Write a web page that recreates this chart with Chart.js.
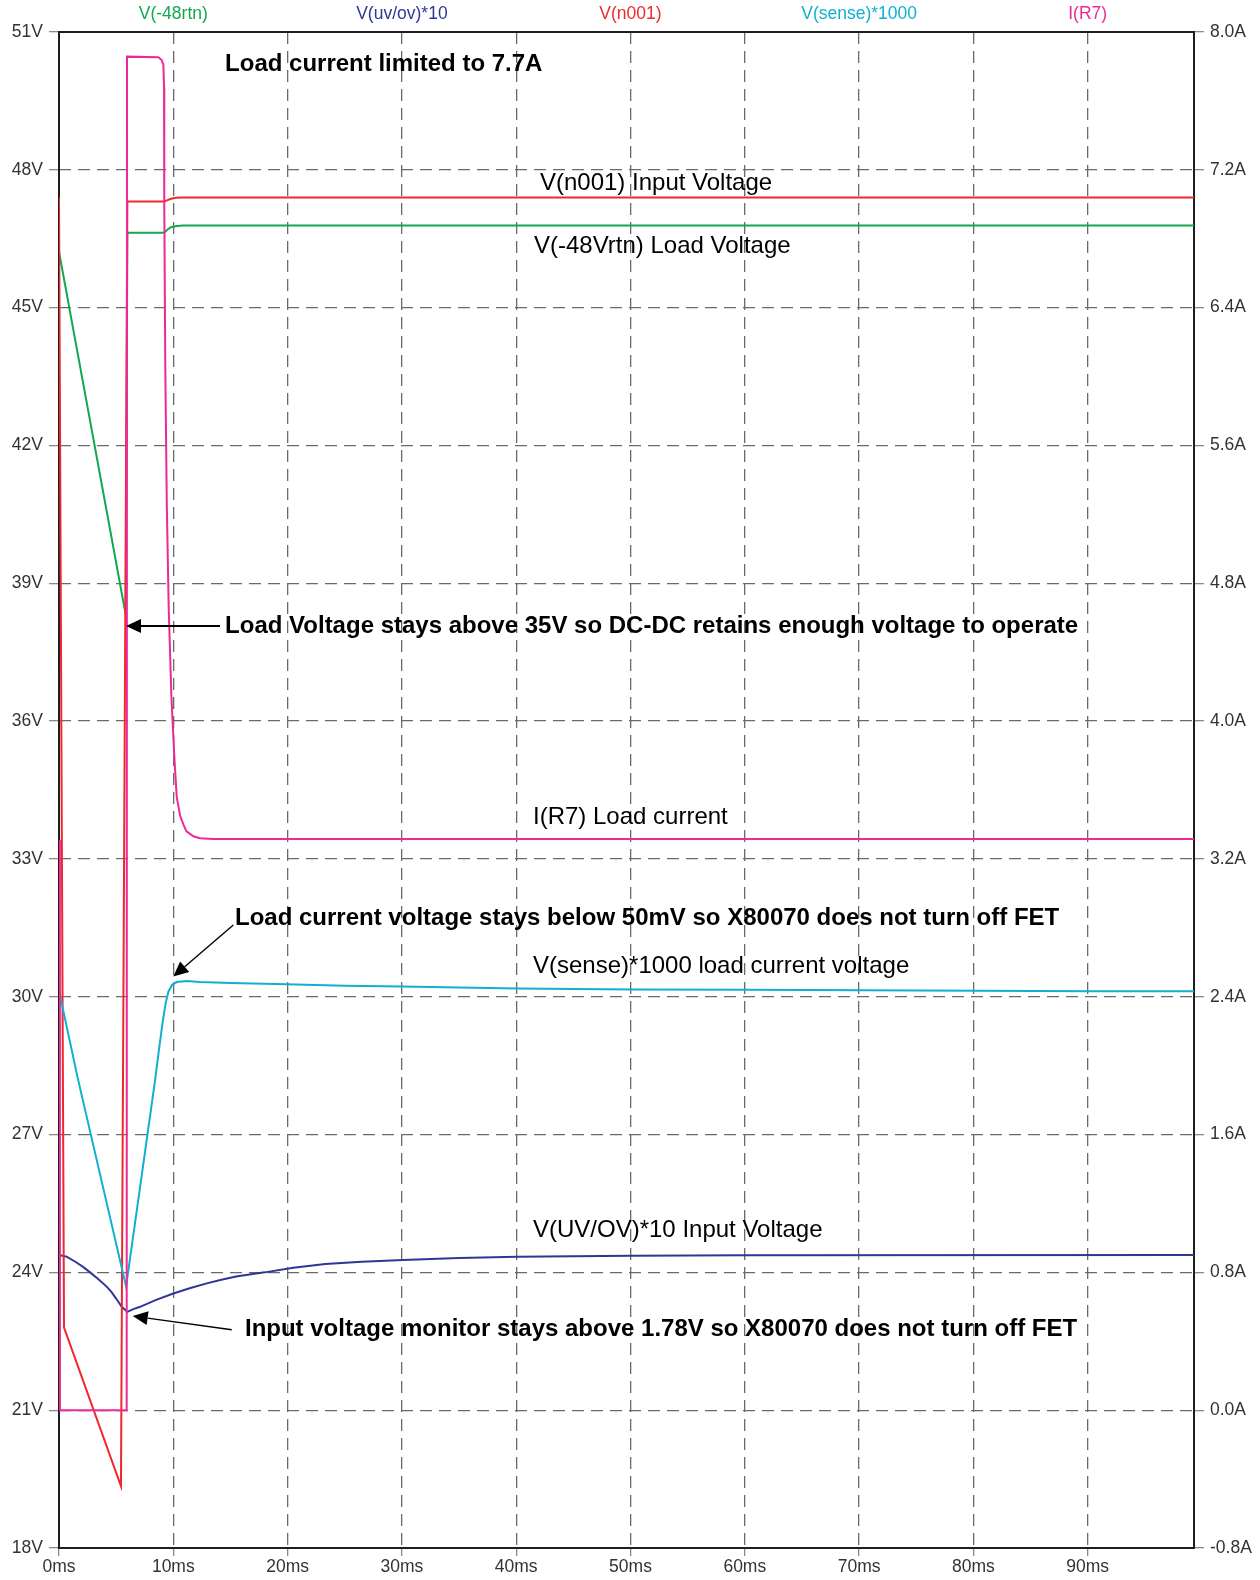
<!DOCTYPE html>
<html>
<head>
<meta charset="utf-8">
<script src="https://cdn.jsdelivr.net/npm/chart.js@4.4.1/dist/chart.umd.min.js"></script>
<style>
  html, body { margin: 0; padding: 0; background: #ffffff; }
  canvas { display: block; }
</style>
</head>
<body>
<canvas id="scope" width="1260" height="1580"></canvas>
<script>
// ---- axis ticks ----
const timeTicks = [0, 10, 20, 30, 40, 50, 60, 70, 80, 90];          // ms
const voltTicks = [18, 21, 24, 27, 30, 33, 36, 39, 42, 45, 48, 51];  // V (left)
const ampTicks  = [-0.8, 0, 0.8, 1.6, 2.4, 3.2, 4.0, 4.8, 5.6, 6.4, 7.2, 8.0]; // A (right)
const timeEnd = 99.3;

// ---- trace names (header row) ----
const seriesNames = ['V(-48rtn)', 'V(uv/ov)*10', 'V(n001)', 'V(sense)*1000', 'I(R7)'];
const namePositions = [10, 30, 50, 70, 90]; // ms

// ---- V(n001) input voltage ----
const tN001 = [0, 0.44, 5.42, 5.98, 9.2, 9.5, 9.8, 10.2, 10.8, 99.3];
const vN001 = [47.4, 22.8, 19.35, 47.31, 47.31, 47.34, 47.37, 47.39, 47.4, 47.4];

// ---- V(-48Vrtn) load voltage ----
const tRtn = [0, 5.84, 5.98, 9.2, 9.5, 9.8, 10.2, 10.8, 99.3];
const vRtn = [46.22, 38.31, 46.63, 46.63, 46.70, 46.75, 46.77, 46.79, 46.79];

// ---- V(uv/ov)*10 ----
const tUvov = [0, 0.67, 1.5, 2.1, 2.72, 3.4, 4.17, 4.6, 5.0, 5.49, 5.98, 6.5, 7.09, 8.5, 10.0, 11.5, 12.93, 14.2, 15.5, 16.8, 18.0, 20.5, 23.3, 26.5, 30.1, 35.0, 40.1, 45.0, 50.1, 60.0, 99.3];
const vUvov = [24.38, 24.34, 24.22, 24.12, 24.0, 23.86, 23.69, 23.57, 23.43, 23.25, 23.14, 23.2, 23.25, 23.40, 23.54, 23.66, 23.76, 23.84, 23.91, 23.96, 24.0, 24.1, 24.18, 24.23, 24.27, 24.31, 24.34, 24.35, 24.36, 24.37, 24.38];

// ---- V(sense)*1000 ----
const tSense = [0, 1.62, 5.87, 8.41, 8.8, 9.1, 9.35, 9.57, 9.9, 10.3, 11.2, 12.3, 15.0, 19.9, 25.0, 30.0, 40.1, 50.3, 60.3, 70.4, 80.3, 90.4, 99.3];
const vSense = [30.13, 28.25, 23.69, 28.19, 28.95, 29.5, 29.88, 30.11, 30.26, 30.32, 30.34, 30.32, 30.3, 30.27, 30.24, 30.22, 30.18, 30.16, 30.15, 30.14, 30.13, 30.12, 30.12];

// ---- I(R7) load current (A) ----
const tLoad = [0, 0.08, 5.92, 5.95, 8.69, 8.99, 9.13, 9.19, 9.21, 9.3, 9.43, 9.6, 9.83, 9.95, 10.1, 10.3, 10.6, 10.88, 11.15, 11.8, 12.35, 13.5, 99.3];
const aLoad = [3.31, 0, 0, 7.857, 7.853, 7.837, 7.81, 7.68, 7.0, 6.05, 5.26, 4.65, 4.15, 3.98, 3.78, 3.56, 3.45, 3.40, 3.36, 3.33, 3.32, 3.315, 3.315];

// ---- colours ----
const colours = {
  rtn:   '#13a84f',
  uvov:  '#2f3795',
  n001:  '#f0282d',
  sense: '#10b0d0',
  load:  '#ec2a95'
};

const FONT = '"Liberation Sans", Arial, sans-serif';

const pairs = (ts, vs) => ts.map((t, i) => ({ x: t, y: vs[i] }));

// ---- text annotations, placed in axis units (ms, V) ----
const notes = [
  { text: 'Load current limited to 7.7A', t: 14.53, v: 50.16, bold: true },
  { text: 'V(n001) Input Voltage', t: 42.08, v: 47.56, bold: false },
  { text: 'V(-48Vrtn) Load Voltage', t: 41.56, v: 46.2, bold: false },
  { text: 'Load Voltage stays above 35V so DC-DC retains enough voltage to operate', t: 14.53, v: 37.91, bold: true },
  { text: 'I(R7) Load current', t: 41.47, v: 33.76, bold: false },
  { text: 'Load current voltage stays below 50mV so X80070 does not turn off FET', t: 15.4, v: 31.57, bold: true },
  { text: 'V(sense)*1000 load current voltage', t: 41.47, v: 30.52, bold: false },
  { text: 'V(UV/OV)*10 Input Voltage', t: 41.47, v: 24.77, bold: false },
  { text: 'Input voltage monitor stays above 1.78V so X80070 does not turn off FET', t: 16.27, v: 22.62, bold: true }
];

const arrows = [
  { from: [14.09, 38.07], to: [5.86, 38.07], width: 2 },
  { from: [15.25, 31.56], to: [10.0, 30.44], width: 1.4 },
  { from: [15.11, 22.75], to: [6.45, 23.05], width: 1.4 }
];

// frame around the plotting area
const framePlugin = {
  id: 'frame',
  beforeDatasetsDraw(chart) {
    const { ctx, chartArea: a } = chart;
    ctx.save();
    ctx.strokeStyle = '#1e1e1e';
    ctx.lineWidth = 2;
    ctx.strokeRect(a.left, a.top, a.right - a.left, a.bottom - a.top);
    ctx.restore();
  }
};

// coloured trace names along the top edge
const namesPlugin = {
  id: 'traceNames',
  afterDraw(chart) {
    const { ctx } = chart;
    const xs = chart.scales.x;
    const cols = [colours.rtn, colours.uvov, colours.n001, colours.sense, colours.load];
    ctx.save();
    ctx.font = '17.5px ' + FONT;
    ctx.textAlign = 'center';
    ctx.textBaseline = 'middle';
    seriesNames.forEach((name, i) => {
      ctx.fillStyle = cols[i];
      ctx.fillText(name, xs.getPixelForValue(namePositions[i]), 14.5);
    });
    ctx.restore();
  }
};

// notes and pointer arrows
const notesPlugin = {
  id: 'notes',
  afterDatasetsDraw(chart) {
    const { ctx } = chart;
    const xs = chart.scales.x, ys = chart.scales.y;
    ctx.save();
    ctx.fillStyle = '#000';
    ctx.textAlign = 'left';
    ctx.textBaseline = 'alphabetic';
    notes.forEach(n => {
      ctx.font = (n.bold ? 'bold ' : '') + '24px ' + FONT;
      ctx.fillText(n.text, xs.getPixelForValue(n.t), ys.getPixelForValue(n.v));
    });
    arrows.forEach(a => {
      const x0 = xs.getPixelForValue(a.from[0]), y0 = ys.getPixelForValue(a.from[1]);
      const x1 = xs.getPixelForValue(a.to[0]),   y1 = ys.getPixelForValue(a.to[1]);
      const ang = Math.atan2(y1 - y0, x1 - x0);
      const len = 15, half = 7;
      const bx = x1 - len * Math.cos(ang), by = y1 - len * Math.sin(ang);
      ctx.strokeStyle = '#000';
      ctx.lineWidth = a.width;
      ctx.beginPath();
      ctx.moveTo(x0, y0);
      ctx.lineTo(bx, by);
      ctx.stroke();
      ctx.beginPath();
      ctx.moveTo(x1, y1);
      ctx.lineTo(bx + half * Math.sin(ang), by - half * Math.cos(ang));
      ctx.lineTo(bx - half * Math.sin(ang), by + half * Math.cos(ang));
      ctx.closePath();
      ctx.fill();
    });
    ctx.restore();
  }
};

const lineDs = (label, pts, colour, axis) => ({
  label,
  data: pts,
  borderColor: colour,
  backgroundColor: colour,
  borderWidth: 2,
  pointRadius: 0,
  tension: 0,
  fill: false,
  yAxisID: axis
});

const tickFont = { family: FONT, size: 17.5 };
const gridCommon = {
  color: '#6a6a6a',
  lineWidth: 1.3,
  tickColor: '#8a8a8a',
  tickWidth: 1.3,
  tickBorderDash: []
};

new Chart(document.getElementById('scope').getContext('2d'), {
  type: 'line',
  data: {
    datasets: [
      lineDs('I(R7)', pairs(tLoad, aLoad), colours.load, 'y2'),
      lineDs('V(sense)*1000', pairs(tSense, vSense), colours.sense, 'y'),
      lineDs('V(n001)', pairs(tN001, vN001), colours.n001, 'y'),
      lineDs('V(uv/ov)*10', pairs(tUvov, vUvov), colours.uvov, 'y'),
      lineDs('V(-48rtn)', pairs(tRtn, vRtn), colours.rtn, 'y')
    ]
  },
  options: {
    responsive: false,
    animation: false,
    devicePixelRatio: 1,
    layout: { padding: { top: 32, left: 0, right: 0, bottom: 0 } },
    plugins: { legend: { display: false }, tooltip: { enabled: false } },
    scales: {
      x: {
        type: 'linear',
        min: 0,
        max: timeEnd,
        afterBuildTicks: s => { s.ticks = timeTicks.map(v => ({ value: v })); },
        afterFit: s => { s.height = 32; },
        ticks: {
          callback: v => v + 'ms',
          color: '#333',
          font: tickFont,
          padding: 1,
          maxRotation: 0,
          autoSkip: false
        },
        grid: Object.assign({ tickLength: 8 }, gridCommon),
        border: { display: false, dash: [12, 7] }
      },
      y: {
        type: 'linear',
        position: 'left',
        min: 18,
        max: 51,
        afterBuildTicks: s => { s.ticks = voltTicks.map(v => ({ value: v })); },
        afterFit: s => { s.width = 59; },
        ticks: {
          callback: v => v + 'V',
          color: '#333',
          font: tickFont,
          padding: 6,
          autoSkip: false
        },
        grid: Object.assign({ tickLength: 10 }, gridCommon),
        border: { display: false, dash: [12, 7] }
      },
      y2: {
        type: 'linear',
        position: 'right',
        min: -0.8,
        max: 8.0,
        afterBuildTicks: s => { s.ticks = ampTicks.map(v => ({ value: v })); },
        afterFit: s => { s.width = 66; },
        ticks: {
          callback: v => v.toFixed(1) + 'A',
          color: '#333',
          font: tickFont,
          padding: 6,
          autoSkip: false
        },
        grid: Object.assign({ tickLength: 10, drawOnChartArea: false }, gridCommon),
        border: { display: false }
      }
    }
  },
  plugins: [framePlugin, namesPlugin, notesPlugin]
});
</script>
</body>
</html>
